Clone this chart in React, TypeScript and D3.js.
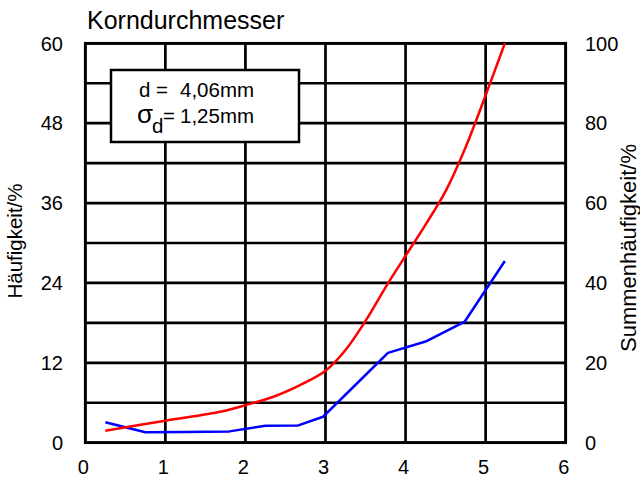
import { useRef, useEffect } from 'react';
import * as d3 from 'd3';

// Häufigkeit (left axis, %)
const freqX = [0.25, 0.75, 1.25, 1.8, 2.25, 2.66, 2.97, 3.78, 4.25, 4.74, 5.24];
const freqY = [3.06, 1.56, 1.6, 1.7, 2.55, 2.6, 3.9, 13.5, 15.2, 18.2, 27.3];

// Summenhäufigkeit (right axis, %)
const cumX = [0.25, 1.0, 1.7, 2.0, 2.35, 2.75, 3.0, 3.25, 3.5, 3.78, 4.0, 4.25, 4.5, 4.75, 5.0, 5.24];
const cumY = [3.0, 5.5, 7.8, 9.4, 11.5, 15.1, 18.0, 23.2, 30.5, 39.9, 46.8, 54.6, 63.0, 74.0, 87.0, 100];

const xTicks = [0, 1, 2, 3, 4, 5, 6];
const leftTicks = [0, 12, 24, 36, 48, 60];
const rightTicks = [0, 20, 40, 60, 80, 100];
const gridLeft = [0, 6, 12, 18, 24, 30, 36, 42, 48, 54, 60];

const FONT = '"Liberation Sans", Arial, Helvetica, sans-serif';

const Chart = () => {
  const ref = useRef<SVGSVGElement | null>(null);

  useEffect(() => {
    if (!ref.current) return;
    const svg = d3.select(ref.current);
    svg.selectAll('*').remove();

    const x = d3.scaleLinear().domain([0, 6]).range([85.3, 565.7]);
    const yL = d3.scaleLinear().domain([0, 60]).range([442.7, 43.3]);
    const yR = d3.scaleLinear().domain([0, 100]).range([442.7, 43.3]);

    const grid = svg.append('g').attr('stroke', '#000').attr('stroke-width', 2.7);
    grid.selectAll('line.v')
      .data(xTicks)
      .join('line')
      .attr('class', 'v')
      .attr('x1', d => x(d)).attr('x2', d => x(d))
      .attr('y1', yL(60)).attr('y2', yL(0));
    grid.selectAll('line.h')
      .data(gridLeft)
      .join('line')
      .attr('class', 'h')
      .attr('x1', x(0)).attr('x2', x(6))
      .attr('y1', d => yL(d)).attr('y2', d => yL(d));
    grid.append('rect')
      .attr('x', x(0)).attr('y', yL(60))
      .attr('width', x(6) - x(0)).attr('height', yL(0) - yL(60))
      .attr('fill', 'none');

    // legend box
    const lg = svg.append('g');
    lg.append('rect')
      .attr('x', 111).attr('y', 70).attr('width', 188).attr('height', 72)
      .attr('fill', '#fff').attr('stroke', '#000').attr('stroke-width', 2.5);
    const lt = lg.append('g').attr('font-family', FONT).attr('font-size', 20.5).attr('fill', '#000');
    lt.append('text').attr('x', 139).attr('y', 97).text('d =');
    lt.append('text').attr('x', 180).attr('y', 97).text('4,06mm');
    lt.append('text').attr('x', 137).attr('y', 123).attr('font-size', 26).text('σ');
    lt.append('text').attr('x', 152).attr('y', 133).text('d');
    lt.append('text').attr('x', 163).attr('y', 123).text('=');
    lt.append('text').attr('x', 180).attr('y', 123).text('1,25mm');

    // lines
    const freqLine = d3.line<number>()
      .x((_, i) => x(freqX[i]))
      .y(d => yL(d));
    svg.append('path')
      .attr('d', freqLine(freqY))
      .attr('fill', 'none')
      .attr('stroke', '#0000ff')
      .attr('stroke-width', 2.5)
      .attr('stroke-linejoin', 'round');

    const cumLine = d3.line<number>()
      .x((_, i) => x(cumX[i]))
      .y(d => yR(d))
      .curve(d3.curveCatmullRom.alpha(0.5));
    svg.append('path')
      .attr('d', cumLine(cumY))
      .attr('fill', 'none')
      .attr('stroke', '#ff0000')
      .attr('stroke-width', 2.5);

    // tick labels
    const labels = svg.append('g').attr('font-family', FONT).attr('font-size', 20).attr('fill', '#000');
    labels.selectAll('text.l')
      .data(leftTicks)
      .join('text')
      .attr('class', 'l')
      .attr('x', 63)
      .attr('y', d => yL(d))
      .attr('dy', '0.36em')
      .attr('text-anchor', 'end')
      .text(d => d);
    labels.selectAll('text.r')
      .data(rightTicks)
      .join('text')
      .attr('class', 'r')
      .attr('x', 585)
      .attr('y', d => yR(d))
      .attr('dy', '0.36em')
      .attr('text-anchor', 'start')
      .text(d => d);
    labels.selectAll('text.b')
      .data(xTicks)
      .join('text')
      .attr('class', 'b')
      .attr('x', d => x(d) - 2)
      .attr('y', 467)
      .attr('dy', '0.36em')
      .attr('text-anchor', 'middle')
      .text(d => d);

    // titles
    svg.append('text')
      .attr('x', 87).attr('y', 29)
      .attr('font-family', FONT).attr('font-size', 25)
      .text('Korndurchmesser');
    svg.append('text')
      .attr('transform', 'translate(15,241) rotate(-90)')
      .attr('text-anchor', 'middle')
      .attr('dy', '0.36em')
      .attr('font-family', FONT).attr('font-size', 20.5)
      .text('Häufigkeit/%');
    svg.append('text')
      .attr('transform', 'translate(628,248) rotate(-90)')
      .attr('text-anchor', 'middle')
      .attr('dy', '0.36em')
      .attr('font-family', FONT).attr('font-size', 22)
      .text('Summenhäufigkeit/%');
  }, []);

  return (
    <svg
      ref={ref}
      width={640}
      height={477}
      style={{ position: 'absolute', left: 0, top: 0, background: '#fff' }}
    />
  );
};

export default function App() {
  return <Chart />;
}
